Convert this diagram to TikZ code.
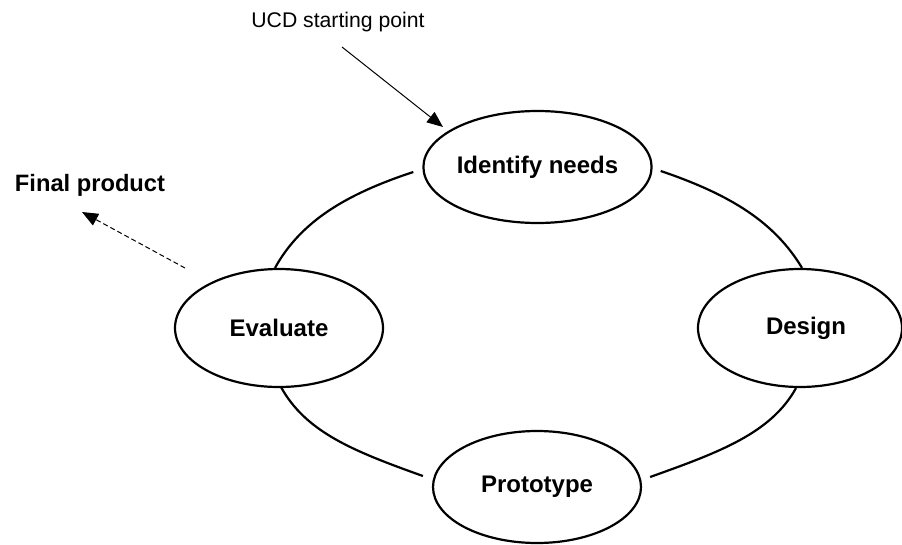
\documentclass[tikz,border=0pt]{standalone}
\usepackage{fontspec}
\setmainfont{Liberation Sans}
\usetikzlibrary{shapes.geometric,arrows.meta,calc}
\begin{document}
\begin{tikzpicture}[x=1pt,y=-1pt,
  stage/.style={ellipse,draw,line width=2.2pt,fill=white,inner sep=0pt,
    font=\bfseries\fontsize{24}{28}\selectfont},
  arcline/.style={line width=2.2pt},
  pointer/.style={line width=1pt,-{Triangle[length=16pt,width=13pt]}},
  dashpointer/.style={pointer,dash pattern=on 5pt off 3pt}]
\useasboundingbox (0,0) rectangle (902,544);
\node[stage,minimum width=208pt,minimum height=112pt] (idn) at (537.5,167) {Identify needs};
\node[stage,minimum width=204pt,minimum height=118pt] (des) at (800,328) {\hspace*{12pt}Design};
\node[stage,minimum width=208pt,minimum height=118pt] (eva) at (279,328) {Evaluate};
\node[stage,minimum width=208pt,minimum height=112pt] (pro) at (537,487) {Prototype};
\draw[arcline] ($(idn.west)+(-9,5)$) .. controls +(-70,23) and +(25,-45) .. ($(eva.north)+(-4,0)$);
\draw[arcline] ($(idn.east)+(8,4)$) .. controls +(71,24) and +(-27,-45) .. ($(des.north)+(2,0)$);
\draw[arcline] ($(eva.south)+(2,-1)$) .. controls +(25,45) and +(-70,-25) .. ($(pro.west)+(-9,-11)$);
\draw[arcline] ($(des.south)+(-4,0)$) .. controls +(-25,45) and +(70,-25) .. ($(pro.east)+(8,-10)$);
\node[anchor=base,font=\fontsize{21.2}{25}\selectfont] (ucd) at (338,27) {UCD starting point};
\node[anchor=base,font=\bfseries\fontsize{23.7}{28}\selectfont] (fin) at (90,191) {Final product};
\coordinate (ucdtail) at (342,47);
\coordinate (ucdtip) at (443,127);
\coordinate (fintail) at (185,268);
\coordinate (fintip) at (82,212);
\draw[pointer] (ucdtail) -- (ucdtip);
\draw[dashpointer] (fintail) -- (fintip);
\end{tikzpicture}
\end{document}
